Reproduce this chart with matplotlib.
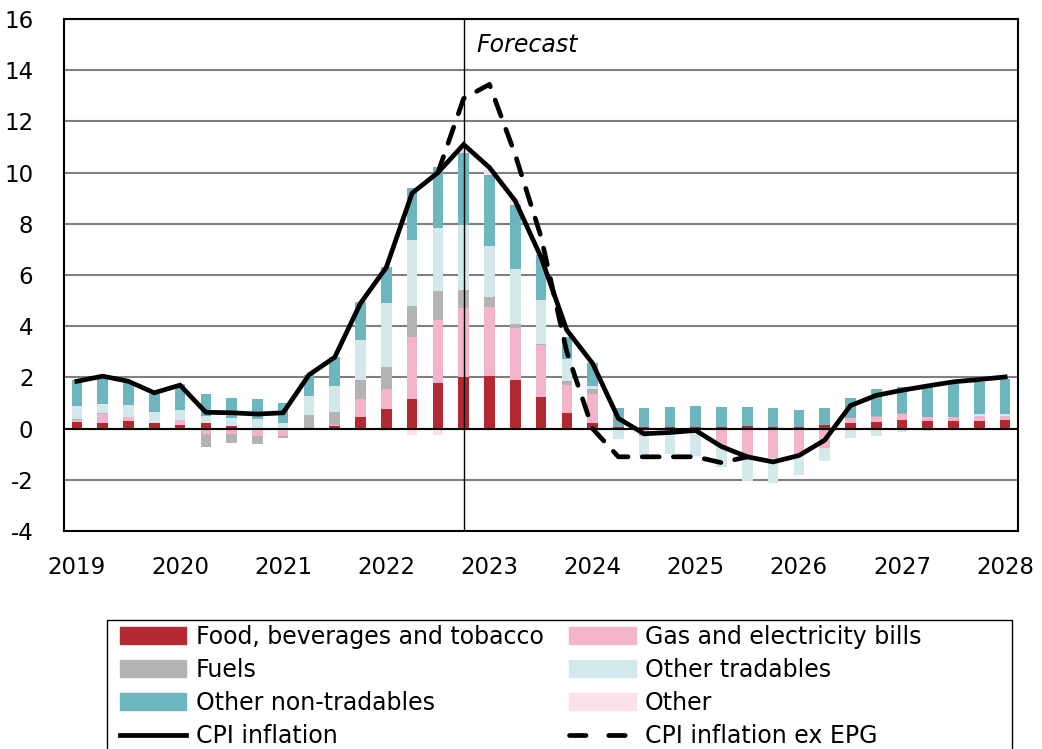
import numpy as np
import matplotlib
matplotlib.use("Agg")
import matplotlib.pyplot as plt
from matplotlib.lines import Line2D
from matplotlib.patches import Patch, Rectangle

# quarterly, 2019Q1 .. 2028Q1
quarters = [f"{y}Q{q}" for y in range(2019, 2029) for q in range(1, 5)][:37]
year_labels = [str(y) for y in range(2019, 2029)]

food = [0.27, 0.21, 0.28, 0.24, 0.15, 0.22, 0.10, 0.02, 0.02, 0.0,
        0.10, 0.46, 0.76, 1.16, 1.79, 2.02, 2.05, 1.91, 1.23, 0.60,
        0.21, 0.08, 0.05, 0.07, 0.07, 0.08, 0.10, 0.07, 0.08, 0.15,
        0.23, 0.27, 0.33, 0.31, 0.31, 0.31, 0.33]
gas = [0.08, 0.36, 0.16, 0.0, 0.18, -0.22, -0.22, -0.28, -0.27, 0.0,
       0.05, 0.68, 0.79, 2.42, 2.45, 2.71, 2.70, 2.03, 2.02, 1.11,
       1.14, 0.0, -0.10, 0.0, 0.0, -0.68, -1.24, -1.13, -1.04, -0.77,
       0.17, 0.20, 0.23, 0.16, 0.16, 0.19, 0.16]
fuels = [0.03, 0.04, 0.0, -0.06, 0.0, -0.50, -0.36, -0.32, -0.10, 0.52,
         0.51, 0.75, 0.86, 1.22, 1.15, 0.67, 0.40, 0.16, 0.04, 0.17,
         0.20, 0.0, -0.20, 0.0, -0.10, -0.04, 0.0, 0.0, 0.0, 0.0,
         0.0, 0.02, 0.04, 0.0, 0.0, 0.0, 0.0]
other_tradables = [0.50, 0.36, 0.49, 0.40, 0.41, 0.27, 0.32, 0.37, 0.20, 0.76,
                   1.00, 1.57, 2.50, 2.58, 2.43, 2.54, 1.98, 2.13, 1.73, 0.84,
                   0.10, -0.42, -0.77, -1.00, -0.95, -0.78, -0.80, -1.01, -0.77, -0.50,
                   -0.35, -0.30, -0.15, -0.08, 0.0, 0.07, 0.09]
non_tradables = [1.03, 1.00, 0.84, 0.70, 1.00, 0.87, 0.78, 0.75, 0.77, 0.82,
                 1.13, 1.49, 1.41, 2.02, 2.42, 2.84, 2.79, 2.51, 1.77, 0.85,
                 0.92, 0.72, 0.76, 0.79, 0.83, 0.75, 0.75, 0.75, 0.64, 0.64,
                 0.80, 1.04, 1.03, 1.20, 1.29, 1.27, 1.37]
other = [0.0, 0.0, 0.0, 0.0, 0.0, 0.0, 0.0, 0.0, 0.0, 0.0,
         0.0, 0.0, -0.10, -0.25, -0.25, 0.10, 0.20, 0.20, 0.05, 0.0,
         0.0, 0.0, 0.0, 0.0, 0.0, 0.0, 0.0, 0.0, 0.0, 0.0,
         0.0, 0.0, 0.0, 0.0, 0.0, 0.0, 0.0]

cpi = [1.85, 2.05, 1.85, 1.40, 1.70, 0.64, 0.62, 0.57, 0.62, 2.10,
       2.79, 4.90, 6.30, 9.20, 10.00, 11.10, 10.20, 8.90, 6.70, 3.85,
       2.55, 0.40, -0.20, -0.15, -0.07, -0.70, -1.10, -1.30, -1.05, -0.45,
       0.90, 1.30, 1.50, 1.67, 1.83, 1.92, 2.02]
cpi_ex_epg = [None] * 14 + [10.00, 12.90, 13.45, 10.70, 7.50, 3.00,
                            0.00, -1.10, -1.10, -1.10, -1.10, -1.33, -1.10] + [None] * 10

series = [
    ("Food, beverages and tobacco", food, "#B2292F"),
    ("Gas and electricity bills", gas, "#F2B3CB"),
    ("Fuels", fuels, "#B3B3B3"),
    ("Other tradables", other_tradables, "#D2E8EA"),
    ("Other non-tradables", non_tradables, "#6DB6C0"),
    ("Other", other, "#FAE2EA"),
]

plt.rcParams["font.family"] = ["DejaVu Sans"]
plt.rcParams["axes.unicode_minus"] = False

fig = plt.figure(figsize=(10.42, 7.49), dpi=100)
ax = fig.add_axes([0.0614, 0.291, 0.9156, 0.6835])

x = np.arange(len(quarters))
pos_base = np.zeros(len(x))
neg_base = np.zeros(len(x))
for name, vals, col in series:
    v = np.array(vals, dtype=float)
    bottom = np.where(v >= 0, pos_base, neg_base)
    ax.bar(x, v, width=0.41, bottom=bottom, color=col, linewidth=0, zorder=3)
    pos_base += np.where(v >= 0, v, 0)
    neg_base += np.where(v < 0, v, 0)

dash = (3.6, 3.0)
ax.plot(x, cpi, color="black", lw=3.4, solid_joinstyle="miter", zorder=5)
ex = np.array([np.nan if v is None else v for v in cpi_ex_epg])
ax.plot(x, ex, color="black", lw=3.4, dashes=dash, dash_capstyle="round", zorder=6)

ax.axvline(15, color="black", lw=1.0, zorder=4)
ax.text(15.5, 15.0, "Forecast", fontsize=17, style="italic", va="center", ha="left")

ax.set_xlim(-0.5, 36.5)
ax.set_ylim(-4, 16)
ax.set_yticks(np.arange(-4, 17, 2))
ax.set_xticks(x[::4])
ax.set_xticklabels(year_labels)
ax.tick_params(axis="both", length=0, labelsize=16.5)
ax.tick_params(axis="y", pad=22)
ax.tick_params(axis="x", pad=18)
ax.grid(axis="y", color="#7f7f7f", lw=1.5, zorder=1)
ax.axhline(0, color="black", lw=1.5, zorder=4)
for s in ax.spines.values():
    s.set_linewidth(1.5)
    s.set_color("black")

handles = [
    Patch(color=series[0][2]), Patch(color=series[2][2]), Patch(color=series[4][2]),
    Line2D([], [], color="black", lw=3.4),
    Patch(color=series[1][2]), Patch(color=series[3][2]), Patch(color=series[5][2]),
    Line2D([], [], color="black", lw=3.4, dashes=(3.5, 4.8), dash_capstyle="round"),
]
labels = [series[0][0], series[2][0], series[4][0], "CPI inflation",
          series[1][0], series[3][0], series[5][0], "CPI inflation ex EPG"]
fig.legend(handles, labels, loc="upper left", bbox_to_anchor=(0.1152, 0.1656),
           ncol=2, fontsize=17, frameon=False,
           handlelength=2.8, handleheight=0.7, handletextpad=0.4,
           columnspacing=1.1, labelspacing=0.38, borderpad=0, borderaxespad=0)
# legend box runs past the bottom edge of the figure
fig.patches.append(Rectangle((107 / 1042, -0.05), (1012 - 107) / 1042, 0.05 + 129 / 749,
                             transform=fig.transFigure, fill=False,
                             edgecolor="black", lw=1.0))

fig.savefig("out.png", dpi=100)
